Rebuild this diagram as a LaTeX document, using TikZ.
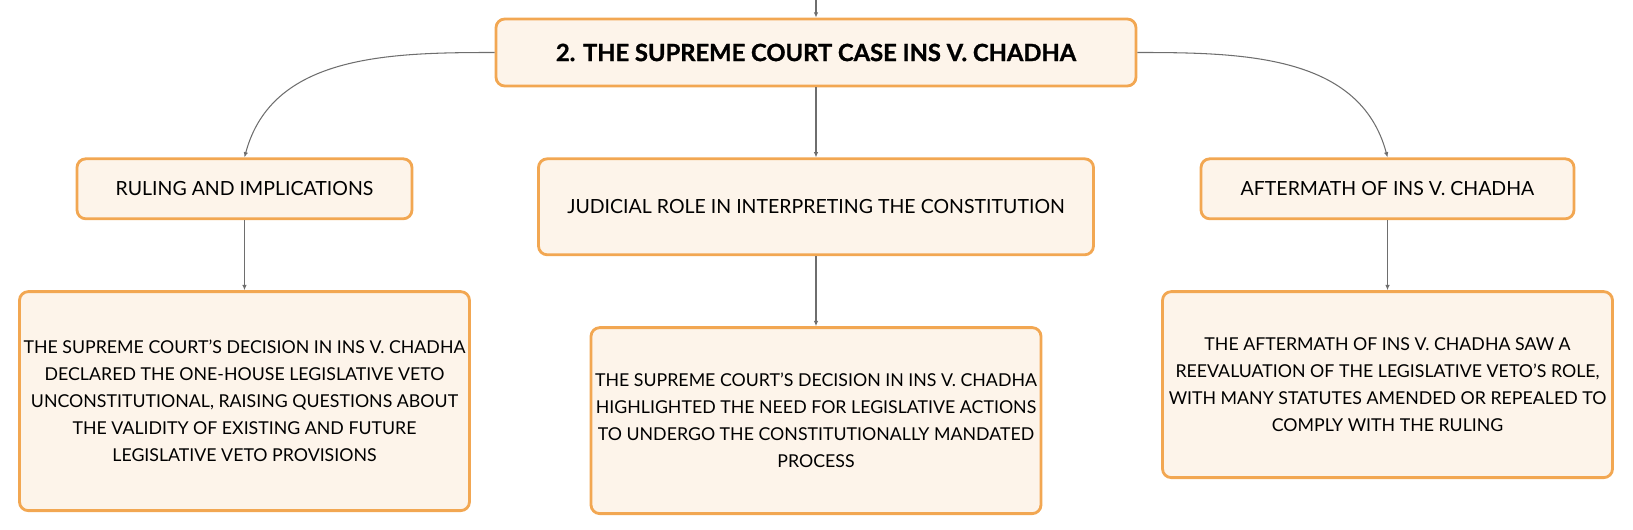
\documentclass[tikz,border=0pt]{standalone}
\usepackage{fontspec}
\setmainfont{Lato}
\newfontfamily\heavyfont{Lato}[BoldFeatures={FakeBold=1.2}]
\usetikzlibrary{arrows.meta, positioning}

\definecolor{boxline}{RGB}{242,167,82}
\definecolor{boxfill}{RGB}{253,244,234}
\definecolor{linkgray}{RGB}{110,110,110}

\tikzset{
    card/.style={draw=boxline, fill=boxfill, line width=1.6pt, rounded corners=5pt, align=center, inner sep=0pt},
    topic/.style={card, minimum width=12.8cm, minimum height=1.34cm, font=\heavyfont\fontsize{13.5}{16}\selectfont\bfseries},
    subtopic/.style={card, minimum width=6.7cm, minimum height=1.2cm, font=\fontsize{11.1}{14}\selectfont},
    detail/.style={card, minimum width=9cm, font=\fontsize{10.1}{15.4}\selectfont},
    link/.style={draw=linkgray, line width=0.6pt, -{Latex[length=3pt,width=2.6pt]}}
}

\begin{document}
\begin{tikzpicture}[node distance=1.4cm]
    \useasboundingbox (-16.32,1.05) rectangle (16.34,-9.55);

    % Nodo principal
    \node (root) [topic] at (0,0) {2. THE SUPREME COURT CASE INS V. CHADHA};
    \coordinate (entry) at (0,1.05);

    % Subtemas
    \node (judicial) [below=of root, subtopic, minimum width=11.1cm, minimum height=1.92cm] {JUDICIAL ROLE IN INTERPRETING THE CONSTITUTION};
    \node (ruling) [below=of root, xshift=-11.43cm, subtopic] {RULING AND IMPLICATIONS};
    \node (aftermath) [below=of root, xshift=11.43cm, subtopic, minimum width=7.46cm] {AFTERMATH OF INS V. CHADHA};

    % Detalles
    \node (rulingtext) [below=of ruling, detail, minimum height=4.38cm] {THE SUPREME COURT'S DECISION IN INS V. CHADHA\\ DECLARED THE ONE-HOUSE LEGISLATIVE VETO\\ UNCONSTITUTIONAL, RAISING QUESTIONS ABOUT\\ THE VALIDITY OF EXISTING AND FUTURE\\ LEGISLATIVE VETO PROVISIONS};
    \node (judicialtext) [below=of judicial, detail, minimum height=3.72cm] {THE SUPREME COURT'S DECISION IN INS V. CHADHA\\ HIGHLIGHTED THE NEED FOR LEGISLATIVE ACTIONS\\ TO UNDERGO THE CONSTITUTIONALLY MANDATED\\ PROCESS};
    \node (aftermathtext) [below=of aftermath, detail, minimum height=3.72cm] {THE AFTERMATH OF INS V. CHADHA SAW A\\ REEVALUATION OF THE LEGISLATIVE VETO'S ROLE,\\ WITH MANY STATUTES AMENDED OR REPEALED TO\\ COMPLY WITH THE RULING};

    % Conectores
    \draw[link] (entry) -- (root);
    \draw[link] (root.west) to[out=180, in=75] (ruling.north);
    \draw[link] (root.east) to[out=0, in=105] (aftermath.north);
    \draw[link] (root) -- (judicial);
    \draw[link] (ruling) -- (rulingtext);
    \draw[link] (judicial) -- (judicialtext);
    \draw[link] (aftermath) -- (aftermathtext);
\end{tikzpicture}
\end{document}
